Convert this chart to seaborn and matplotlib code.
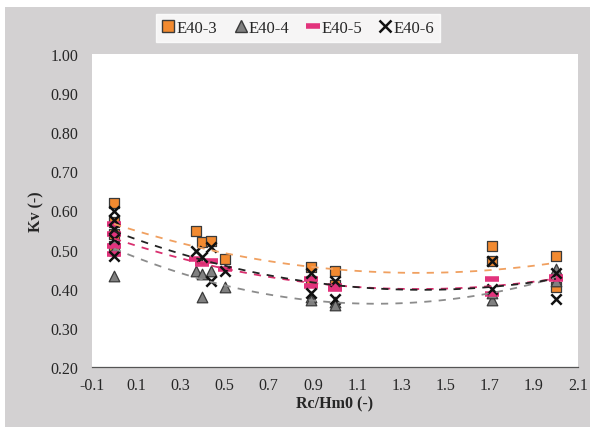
import matplotlib
matplotlib.use("Agg")
import matplotlib.pyplot as plt
import seaborn as sns
import pandas as pd
import numpy as np
from matplotlib.lines import Line2D
from matplotlib.patches import Rectangle

# datos (Rc/Hm0 vs Kv)
x_e3 = [0, 0, 0, 0, 0.37, 0.40, 0.44, 0.50, 0.89, 0.89, 1.0, 1.0, 1.71, 1.71, 2.0, 2.0]
kv_e3 = [0.62, 0.57, 0.54, 0.51, 0.548, 0.52, 0.522, 0.476, 0.455, 0.42, 0.445, 0.41, 0.51, 0.47, 0.484, 0.404]

x_e4 = [0, 0, 0, 0, 0.37, 0.40, 0.40, 0.44, 0.50, 0.89, 0.89, 1.0, 1.0, 1.71, 1.71, 2.0, 2.0]
kv_e4 = [0.433, 0.50, 0.52, 0.55, 0.445, 0.438, 0.38, 0.445, 0.405, 0.38, 0.37, 0.365, 0.358, 0.37, 0.39, 0.45, 0.42]

x_e5 = [0, 0, 0, 0, 0.37, 0.40, 0.44, 0.50, 0.89, 0.89, 1.0, 1.0, 1.71, 1.71, 2.0, 2.0]
kv_e5 = [0.565, 0.51, 0.49, 0.54, 0.476, 0.463, 0.47, 0.45, 0.425, 0.407, 0.407, 0.40, 0.425, 0.387, 0.425, 0.43]

x_e6 = [0, 0, 0, 0, 0, 0.37, 0.40, 0.44, 0.44, 0.50, 0.89, 0.89, 1.0, 1.0, 1.71, 1.71, 2.0, 2.0]
kv_e6 = [0.60, 0.553, 0.527, 0.484, 0.575, 0.496, 0.48, 0.507, 0.42, 0.445, 0.44, 0.39, 0.42, 0.374, 0.47, 0.40, 0.44, 0.374]

series = ['E40-3', 'E40-4', 'E40-5', 'E40-6']
x_ticks = [-0.1, 0.1, 0.3, 0.5, 0.7, 0.9, 1.1, 1.3, 1.5, 1.7, 1.9, 2.1]
y_ticks = [0.20, 0.30, 0.40, 0.50, 0.60, 0.70, 0.80, 0.90, 1.00]

df = pd.concat([
    pd.DataFrame({'x': x_e3, 'kv': kv_e3, 'serie': 'E40-3'}),
    pd.DataFrame({'x': x_e4, 'kv': kv_e4, 'serie': 'E40-4'}),
    pd.DataFrame({'x': x_e5, 'kv': kv_e5, 'serie': 'E40-5'}),
    pd.DataFrame({'x': x_e6, 'kv': kv_e6, 'serie': 'E40-6'}),
])

colores = {'E40-3': '#f28a30', 'E40-4': '#808080', 'E40-5': '#e2337c', 'E40-6': '#111111'}
trend_col = {'E40-3': '#f0a060', 'E40-4': '#8c8c8c', 'E40-5': '#d9306f', 'E40-6': '#222222'}
marcadores = {'E40-3': 's', 'E40-4': '^', 'E40-5': '_', 'E40-6': 'x'}

sns.set_style("white")
plt.rcParams['font.family'] = ['Liberation Serif', 'DejaVu Serif']

fig = plt.figure(figsize=(5.94, 4.31), dpi=100)
fig.patch.set_facecolor('white')
fig.patches.append(Rectangle((5 / 594, 3 / 431), 585 / 594, 420 / 431, transform=fig.transFigure,
                             facecolor='#d3d1d2', edgecolor='none', zorder=-10))
ax = fig.add_axes([92 / 594, 1 - 368 / 431, 486 / 594, 313 / 431])
ax.set_facecolor('white')

# puntos
for s in series:
    d = df[df['serie'] == s]
    if s == 'E40-3' or s == 'E40-4':
        ax.scatter(d['x'], d['kv'], marker=marcadores[s], s=58, color=colores[s],
                   edgecolor='#3a3a3a', linewidth=0.9, zorder=3)
    elif s == 'E40-5':
        ax.scatter(d['x'], d['kv'], marker='_', s=100, color=colores[s], linewidth=4, zorder=4)
    else:
        ax.scatter(d['x'], d['kv'], marker='x', s=55, color=colores[s], linewidth=1.8, zorder=5)

# lineas de tendencia polinomicas (orden 2)
for s in series:
    d = df[df['serie'] == s]
    sns.regplot(data=d, x='x', y='kv', order=2, ci=None, scatter=False, ax=ax,
                line_kws=dict(color=trend_col[s], ls=(0, (4, 4)), lw=1.3, zorder=6))

ax.set_xlim(-0.1, 2.1)
ax.set_ylim(0.2, 1.0)
ax.set_xticks(x_ticks)
ax.set_xticklabels([f'{t:.1f}' for t in x_ticks])
ax.set_yticks(y_ticks)
ax.set_yticklabels([f'{t:.2f}' for t in y_ticks])
ax.tick_params(axis='x', direction='out', length=4, width=0.8, color='#555555', labelsize=11.5, pad=3)
ax.tick_params(axis='y', length=0, labelsize=11.5, pad=10)
for side in ['top', 'right', 'left']:
    ax.spines[side].set_visible(False)
ax.spines['bottom'].set_color('#555555')
ax.spines['bottom'].set_linewidth(0.9)
ax.set_xlabel('Rc/Hm0 (-)', fontsize=11.5, fontweight='bold', labelpad=2)
ax.set_ylabel('Kv (-)', fontsize=11.5, fontweight='bold', labelpad=4)

handles = [
    Line2D([], [], marker='s', ls='none', markersize=8, markerfacecolor=colores['E40-3'], markeredgecolor='#3a3a3a'),
    Line2D([], [], marker='^', ls='none', markersize=8, markerfacecolor=colores['E40-4'], markeredgecolor='#3a3a3a'),
    Line2D([], [], marker='_', ls='none', markersize=10, markeredgewidth=4, color=colores['E40-5']),
    Line2D([], [], marker='x', ls='none', markersize=8, markeredgewidth=1.8, color=colores['E40-6']),
]
leg = fig.legend(handles, series, loc='center', bbox_to_anchor=(298 / 594, 1 - 29 / 431), ncol=4,
                 frameon=True, fancybox=False, fontsize=12, handlelength=0.8, handletextpad=0.1,
                 columnspacing=1.0, borderpad=0.35)
leg.get_frame().set_facecolor('white')
leg.get_frame().set_edgecolor('white')

fig.savefig('out.png', dpi=100, facecolor=fig.get_facecolor())
